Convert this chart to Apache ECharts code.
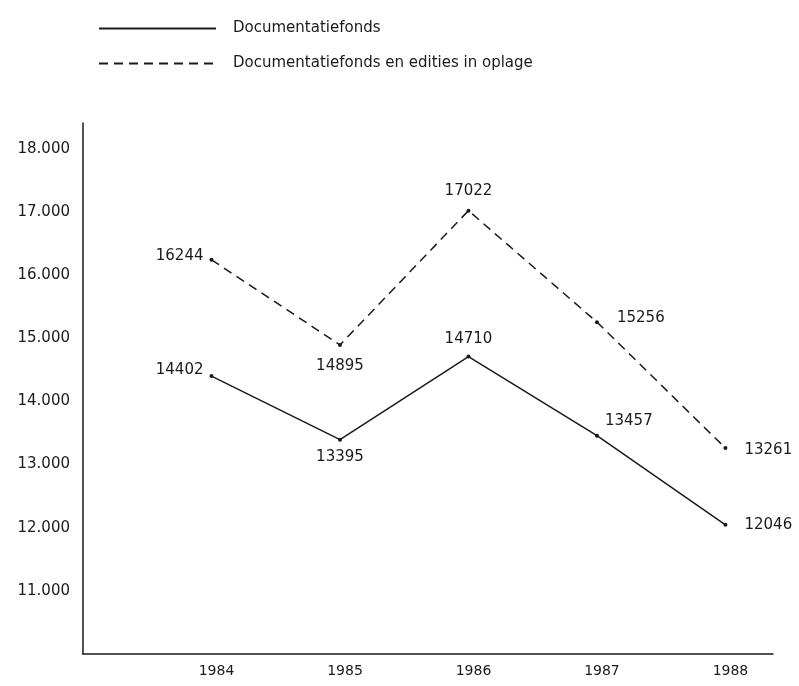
<!DOCTYPE html>
<html>
<head>
<meta charset="utf-8">
<script src="https://cdn.jsdelivr.net/npm/echarts@6/dist/echarts.min.js"></script>
<style>html,body{margin:0;padding:0;background:#fff}#c{width:799px;height:686px}</style>
</head>
<body>
<div id="c"></div>
<script>
const years = [1984, 1985, 1986, 1987, 1988];
const fonds = [14402, 13395, 14710, 13457, 12046];
const fondsEdities = [16244, 14895, 17022, 15256, 13261];
const seriesNames = ['Documentatiefonds', 'Documentatiefonds en edities in oplage'];
const yTicks = [11000, 12000, 13000, 14000, 15000, 16000, 17000, 18000];

const FONT = 'DejaVu Sans';
const INK = '#1a1a1a';

const posFonds = [
  {position: 'left', distance: 6, offset: [0, -6]},
  {position: 'bottom', distance: 8},
  {position: 'top', distance: 8},
  {position: 'right', distance: 6, offset: [0, -15]},
  {position: 'right', distance: 17}
];
const posEd = [
  {position: 'left', distance: 6, offset: [0, -4]},
  {position: 'bottom', distance: 12},
  {position: 'top', distance: 10},
  {position: 'right', distance: 18, offset: [0, -4]},
  {position: 'right', distance: 17, offset: [0, 2]}
];

function build(vals, pos) {
  return vals.map((v, i) => ({value: [years[i], v], label: pos[i]}));
}

const chart = echarts.init(document.getElementById('c'));
chart.setOption({
  backgroundColor: '#fff',
  animation: false,
  textStyle: {fontFamily: FONT, color: INK},
  legend: {
    orient: 'vertical',
    left: 93,
    top: 16,
    itemWidth: 117,
    itemHeight: 14,
    itemGap: 20,
    itemStyle: {opacity: 0},
    textStyle: {fontFamily: FONT, fontSize: 15, color: INK, padding: [0, 0, 0, 12]},
    data: seriesNames.map(n => ({name: n}))
  },
  grid: {left: 83, top: 123, right: 26, bottom: 32, containLabel: false},
  xAxis: {
    type: 'value',
    min: 1983,
    max: 1988.37,
    interval: 1,
    axisLine: {show: true, lineStyle: {color: INK, width: 1.5}},
    axisTick: {show: false},
    splitLine: {show: false},
    axisLabel: {
      fontFamily: FONT, fontSize: 14, color: INK, margin: 10,
      padding: [0, 0, 0, 10],
      showMaxLabel: false, showMinLabel: false,
      formatter: v => years.includes(v) ? String(v) : ''
    }
  },
  yAxis: {
    type: 'value',
    min: 10000,
    max: 18410,
    interval: 1000,
    axisLine: {show: true, lineStyle: {color: INK, width: 1.5}},
    axisTick: {show: false},
    splitLine: {show: false},
    axisLabel: {
      fontFamily: FONT, fontSize: 15, color: INK, margin: 13,
      formatter: v => yTicks.includes(v) ? (v / 1000).toFixed(3) : ''
    }
  },
  series: [
    {
      name: seriesNames[0],
      type: 'line',
      data: build(fonds, posFonds),
      symbol: 'circle',
      symbolSize: 4,
      itemStyle: {color: INK},
      lineStyle: {color: INK, width: 1.5, type: 'solid'},
      label: {show: true, fontFamily: FONT, fontSize: 15, color: INK, formatter: p => String(p.value[1])}
    },
    {
      name: seriesNames[1],
      type: 'line',
      data: build(fondsEdities, posEd),
      symbol: 'circle',
      symbolSize: 4,
      itemStyle: {color: INK},
      lineStyle: {color: INK, width: 1.5, type: [9, 6]},
      label: {show: true, fontFamily: FONT, fontSize: 15, color: INK, formatter: p => String(p.value[1])}
    }
  ]
});
</script>
</body>
</html>
